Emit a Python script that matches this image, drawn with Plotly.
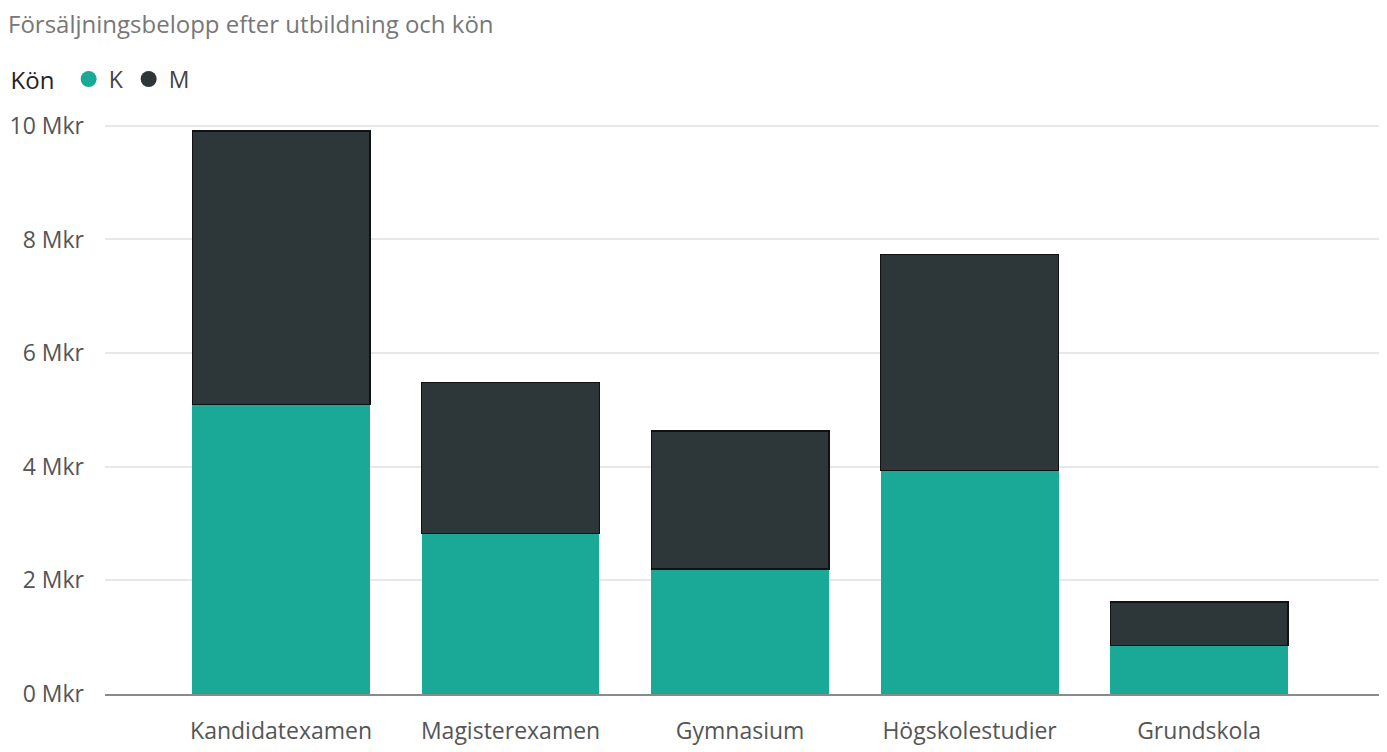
import plotly.graph_objects as go

utbildning = ["Kandidatexamen", "Magisterexamen", "Gymnasium", "Högskolestudier", "Grundskola"]
kvinnor = [5.10, 2.83, 2.20, 3.94, 0.86]   # Mkr
man = [4.81, 2.65, 2.43, 3.79, 0.76]       # Mkr
ticks = [0, 2, 4, 6, 8, 10]
tick_text = [f"{t} Mkr" for t in ticks]

teal = "#1AA897"
dark = "#2D3638"
font = "Open Sans, Noto Sans, sans-serif"

fig = go.Figure()
fig.add_bar(x=utbildning, y=kvinnor, name="K", marker=dict(color=teal, line=dict(width=0)),
            showlegend=False, width=0.775)
fig.add_bar(x=utbildning, y=man, name="M", marker=dict(color=dark, line=dict(color="#111", width=1.2)),
            showlegend=False, width=0.775)

# legend entries with round markers
for namn, farg in [("K", teal), ("M", dark)]:
    fig.add_scatter(x=[None], y=[None], mode="markers", name=namn,
                    marker=dict(color=farg, size=20, symbol="circle"))

# page body has an 8px margin, so the figure is a bit smaller than the window
fig.update_layout(
    width=1379, height=744,
    barmode="stack",
    plot_bgcolor="white", paper_bgcolor="white",
    margin=dict(l=96, r=2, t=115, b=58),
    font=dict(family=font, size=20, color="#605E5C"),
    title=dict(text="Försäljningsbelopp efter utbildning och kön", x=0.0, xanchor="left",
               y=0.978, yanchor="middle", font=dict(size=24, color="#777777", family=font)),
    legend=dict(orientation="h", x=-0.0745, xanchor="left", y=1.077, yanchor="middle",
                traceorder="normal",
                title=dict(text="Kön ", font=dict(size=24, color="#252423")),
                font=dict(size=23, color="#444"), itemwidth=30, tracegroupgap=0,
                bgcolor="rgba(0,0,0,0)"),
    bargap=0.2,
)
fig.update_xaxes(range=[-0.767, 4.81], showgrid=False, showline=True, linecolor="#8a8a8a",
                 linewidth=2, ticks="", tickfont=dict(size=23, color="#555"),
                 ticklabelstandoff=15)
fig.update_yaxes(range=[0, 10.05], tickvals=ticks, ticktext=tick_text, showgrid=True,
                 gridcolor="#E8E8E8", gridwidth=1.5, zeroline=False, ticks="",
                 tickfont=dict(size=23, color="#555"), ticklabelstandoff=20)

fig.write_html("out.html")
